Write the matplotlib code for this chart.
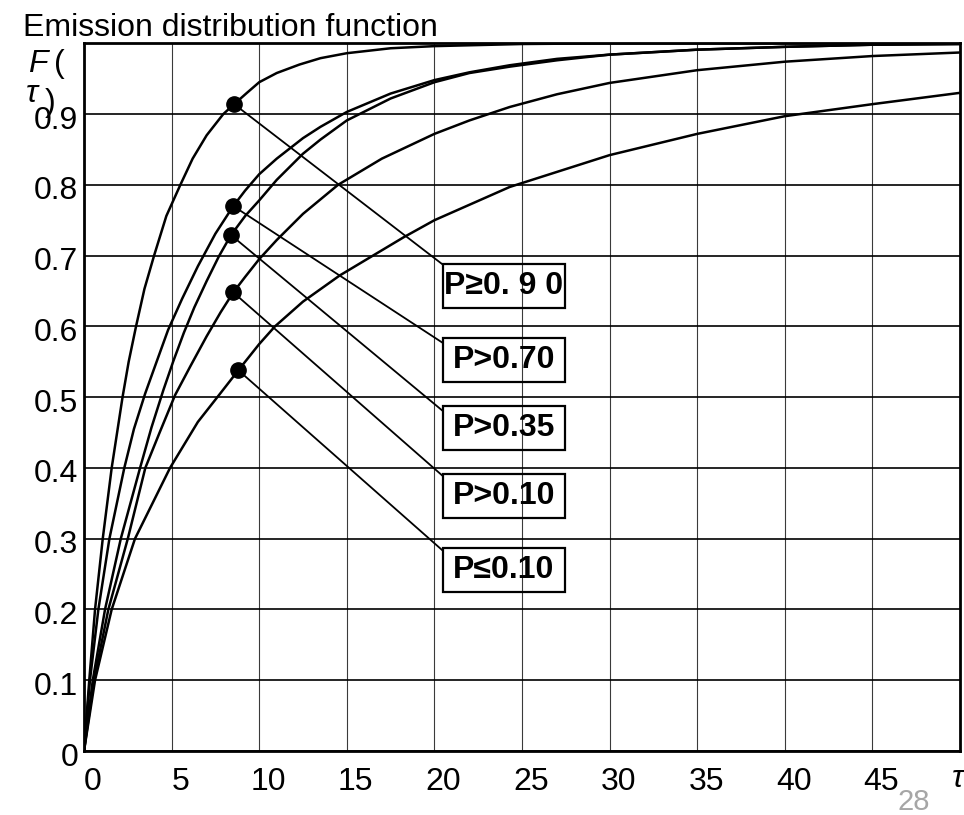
import numpy as np
import matplotlib
matplotlib.use("Agg")
import matplotlib.pyplot as plt
from matplotlib.patches import Rectangle
from matplotlib.transforms import ScaledTranslation

plt.rcParams["font.family"] = ["Liberation Sans", "DejaVu Sans"]

# ------------------------------------------------------------
# Data
# ------------------------------------------------------------
tau_a = [0, 0.3, 0.63, 1.07, 1.58, 2.2, 2.55, 2.97, 3.45, 4.0, 4.7, 5.5, 6.2, 7.0, 7.95, 8.57,
         9.3, 10, 11, 12.3, 13.5, 15, 17.5, 20, 25, 30, 40, 50]
f_a = [0, 0.1, 0.2, 0.3, 0.4, 0.5, 0.55, 0.6, 0.653, 0.7, 0.756, 0.8, 0.837, 0.870, 0.900, 0.914,
       0.930, 0.945, 0.958, 0.970, 0.979, 0.986, 0.993, 0.996, 0.999, 1.0, 1.0, 1.0]

tau_b = [0, 0.34, 0.82, 1.45, 2.3, 2.85, 3.49, 4.1, 4.8, 5.6, 6.5, 7.5, 8.52, 9.2, 10, 11,
         12.5, 13.5, 15, 17.5, 20, 22, 24.3, 27, 30, 35, 40, 45, 50]
f_b = [0, 0.1, 0.2, 0.3, 0.4, 0.455, 0.505, 0.547, 0.595, 0.639, 0.685, 0.731, 0.770, 0.792, 0.815, 0.837,
       0.866, 0.882, 0.903, 0.929, 0.948, 0.959, 0.969, 0.978, 0.984, 0.991, 0.995, 0.998, 0.999]

tau_c = [0, 0.5, 1.2, 2.1, 3.2, 3.85, 4.53, 5.1, 5.7, 6.3, 7.0, 7.7, 8.39, 9.2, 10, 11,
         12.5, 13.5, 15, 17.5, 20, 22, 24.3, 27, 30, 35, 40, 45, 50]
f_c = [0, 0.1, 0.2, 0.3, 0.4, 0.457, 0.51, 0.551, 0.591, 0.627, 0.664, 0.699, 0.729, 0.756, 0.778, 0.807,
       0.844, 0.864, 0.891, 0.922, 0.945, 0.958, 0.967, 0.976, 0.984, 0.991, 0.995, 0.998, 0.999]

tau_d = [0, 0.57, 1.39, 2.5, 3.5, 4.3, 5.2, 6.1, 7.0, 7.8, 8.52, 9.2, 10, 11, 12.5, 14.5,
         17, 20, 22, 24.3, 27, 30, 35, 40, 45, 50]
f_d = [0, 0.1, 0.2, 0.3, 0.4, 0.449, 0.503, 0.545, 0.586, 0.620, 0.648, 0.670, 0.695, 0.722, 0.759, 0.80,
       0.837, 0.872, 0.891, 0.910, 0.928, 0.944, 0.962, 0.974, 0.982, 0.987]

tau_e = [0, 0.63, 1.58, 2.91, 4.91, 6.5, 7.77, 8.81, 10, 10.9, 12.5, 14.6, 18.25, 20, 24.3,
         30, 35, 40, 45, 50]
f_e = [0, 0.1, 0.2, 0.3, 0.4, 0.465, 0.505, 0.538, 0.575, 0.6, 0.635, 0.672, 0.726, 0.75, 0.797,
       0.842, 0.872, 0.897, 0.914, 0.930]

curves = [(tau_a, f_a), (tau_b, f_b), (tau_c, f_c), (tau_d, f_d), (tau_e, f_e)]

# marked points on each curve
dot_tau = [8.57, 8.52, 8.39, 8.52, 8.81]
dot_f = [0.914, 0.770, 0.729, 0.648, 0.538]
labels = ["P≥0. 9 0", "P>0.70", "P>0.35", "P>0.10", "P≤0.10"]

x_ticks = [0, 5, 10, 15, 20, 25, 30, 35, 40, 45]
y_ticks = [0, 0.1, 0.2, 0.3, 0.4, 0.5, 0.6, 0.7, 0.8, 0.9]
y_ticklabels = ["0", "0.1", "0.2", "0.3", "0.4", "0.5", "0.6", "0.7", "0.8", "0.9"]

# ------------------------------------------------------------
# Layout
# ------------------------------------------------------------
W, H = 964, 815
FS = 23
fig = plt.figure(figsize=(W / 100, H / 100), dpi=100)
ax = fig.add_axes([84 / W, 1 - 751 / H, 876 / W, 707.7 / H])

ax.set_xlim(0, 50)
ax.set_ylim(0, 1.0)
ax.set_xticks(x_ticks)
ax.set_xticklabels([str(t) for t in x_ticks])
ax.set_yticks(y_ticks)
ax.set_yticklabels(y_ticklabels)
ax.tick_params(axis="both", length=0, labelsize=FS)
ax.tick_params(axis="x", pad=11.5)
ax.tick_params(axis="y", pad=4)

ax.grid(axis="x", color="#3a3a3a", linewidth=0.8)
ax.grid(axis="y", color="black", linewidth=1.2)
ax.set_axisbelow(True)
for sp in ax.spines.values():
    sp.set_linewidth(2.0)
    sp.set_color("black")

# shift tick labels like in the original
for lab in ax.get_xticklabels():
    lab.set_transform(lab.get_transform() + ScaledTranslation(9 / 100, 0, fig.dpi_scale_trans))
for lab in ax.get_yticklabels():
    lab.set_transform(lab.get_transform() + ScaledTranslation(0, -3 / 100, fig.dpi_scale_trans))

# curves
for tau, f in curves:
    ax.plot(tau, f, color="black", linewidth=1.8, solid_joinstyle="round", zorder=3)

# label boxes (data coords)
box_x = 20.47
box_w = 6.98
box_h = 0.062
box_tops = [0.6875, 0.5838, 0.4877, 0.3908, 0.2863]
leader_drop = [0.0, 0.007, 0.007, 0.002, 0.003]

for i in range(len(labels)):
    top = box_tops[i]
    ax.plot([dot_tau[i], box_x], [dot_f[i], top - leader_drop[i]],
            color="black", linewidth=1.3, zorder=3)
    ax.add_patch(Rectangle((box_x, top - box_h), box_w, box_h,
                           fill=False, edgecolor="black", linewidth=1.6, zorder=4))
    ax.text(box_x + box_w / 2, top - box_h / 2, labels[i],
            ha="center", va="center", fontsize=FS, fontweight="bold", zorder=5)

ax.plot(dot_tau, dot_f, "o", color="black", markersize=11, zorder=6)

# ------------------------------------------------------------
# Texts around the axes
# ------------------------------------------------------------
fig.text(23 / W, 1 - 36 / H, "Emission distribution function",
         fontsize=FS, va="baseline", ha="left")

fig.text(28 / W, 1 - 72 / H, "F", fontsize=FS, style="italic", va="baseline", ha="left")
fig.text(54 / W, 1 - 72 / H, "(", fontsize=FS, va="baseline", ha="left")
fig.text(26 / W, 1 - 102 / H, "τ", fontsize=FS, style="italic", va="baseline", ha="left")
fig.text(45 / W, 1 - 103 / H, ")", fontsize=FS, va="center", ha="left")

fig.text(958 / W, 1 - 787 / H, "τ", fontsize=FS, style="italic", va="baseline", ha="center")

fig.text(914 / W, 1 - 810 / H, "28", fontsize=21, color="#a6a6a6",
         va="baseline", ha="center")

fig.savefig("out.png", dpi=100)
